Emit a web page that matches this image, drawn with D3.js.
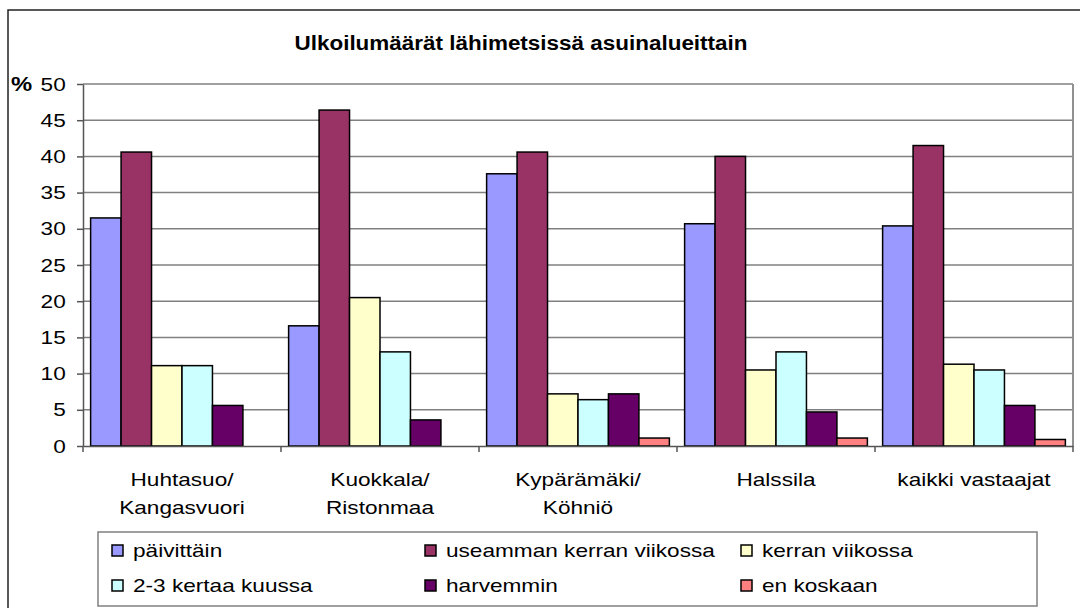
<!DOCTYPE html>
<html>
<head>
<meta charset="utf-8">
<script src="https://cdn.jsdelivr.net/npm/d3@7"></script>
<style>
  html, body { margin: 0; padding: 0; background: #fff; }
  svg { display: block; font-family: "Liberation Sans", Arial, sans-serif; }
</style>
</head>
<body>
<svg id="chart" width="1080" height="608"></svg>
<script>
const categories = [
  ["Huhtasuo/", "Kangasvuori"],
  ["Kuokkala/", "Ristonmaa"],
  ["Kypärämäki/", "Köhniö"],
  ["Halssila"],
  ["kaikki vastaajat"]
];
const seriesNames = ["päivittäin", "useamman kerran viikossa", "kerran viikossa", "2-3 kertaa kuussa", "harvemmin", "en koskaan"];
const seriesColors = ["#9999FF", "#993366", "#FFFFCC", "#CCFFFF", "#660066", "#FF8080"];
const paivittain   = [31.5, 16.6, 37.6, 30.7, 30.4];
const useamman     = [40.6, 46.4, 40.6, 40.0, 41.5];
const kerran       = [11.1, 20.5, 7.2, 10.5, 11.3];
const kertaaKuussa = [11.1, 13.0, 6.4, 13.0, 10.5];
const harvemmin    = [5.6, 3.6, 7.2, 4.7, 5.6];
const enKoskaan    = [0, 0, 1.1, 1.1, 0.9];
const seriesValues = [paivittain, useamman, kerran, kertaaKuussa, harvemmin, enKoskaan];
const yTicks = [0, 5, 10, 15, 20, 25, 30, 35, 40, 45, 50];
const titleText = "Ulkoilumäärät lähimetsissä asuinalueittain";

const svg = d3.select("#chart");
const L = 83, R = 1073, T = 84, B = 446;
const SX = 1.19; // horizontal stretch of the original text

// outer chart border
svg.append("rect").attr("x", 8).attr("y", 10).attr("width", 1200).attr("height", 800)
  .attr("fill", "#fff").attr("stroke", "#222").attr("stroke-width", 1.5);

const catIdx = categories.map((d, i) => i);
const x0 = d3.scaleBand().domain(catIdx).range([L, R]).padding(0);
const x1 = d3.scaleBand().domain(d3.range(seriesNames.length)).range([0, x0.bandwidth()]).paddingInner(0).paddingOuter(0.25);
const y = d3.scaleLinear().domain([0, 50]).range([B, T]);

// gridlines
svg.append("g").selectAll("line").data(yTicks.filter(t => t > 0)).join("line")
  .attr("x1", L).attr("x2", R).attr("y1", d => y(d)).attr("y2", d => y(d))
  .attr("stroke", "#808080").attr("stroke-width", 1.5);
// right border of plot area
svg.append("line").attr("x1", R).attr("x2", R).attr("y1", T).attr("y2", B)
  .attr("stroke", "#909090").attr("stroke-width", 2);

// bars
const groups = svg.append("g").selectAll("g").data(catIdx).join("g")
  .attr("transform", d => `translate(${x0(d)},0)`);
groups.selectAll("rect")
  .data(ci => seriesValues.map((vals, si) => ({ si, v: vals[ci] })).filter(d => d.v > 0))
  .join("rect")
  .attr("x", d => x1(d.si)).attr("width", x1.bandwidth())
  .attr("y", d => y(d.v)).attr("height", d => y(0) - y(d.v))
  .attr("fill", d => seriesColors[d.si]).attr("stroke", "#000").attr("stroke-width", 1.5);

// y axis
const yAxis = d3.axisLeft(y).tickValues(yTicks).tickSize(6).tickPadding(8.5).tickSizeOuter(0);
const gy = svg.append("g").attr("transform", `translate(${L},0)`).call(yAxis);
gy.select(".domain").attr("stroke", "#555").attr("stroke-width", 1.5);
gy.selectAll(".tick line").attr("stroke", "#555").attr("stroke-width", 1.5);
gy.selectAll(".tick text").attr("font-size", 19).attr("fill", "#000")
  .attr("font-family", "Liberation Sans, Arial, sans-serif")
  .attr("transform", `scale(${SX},1)`);

// x axis
const xAxis = d3.axisBottom(x0).tickSize(0).tickFormat(() => "");
const gx = svg.append("g").attr("transform", `translate(0,${B})`).call(xAxis);
gx.select(".domain").attr("stroke", "#555").attr("stroke-width", 1.5);
// tick marks at category boundaries
svg.append("g").selectAll("line").data(d3.range(categories.length + 1)).join("line")
  .attr("x1", i => L + i * x0.step()).attr("x2", i => L + i * x0.step())
  .attr("y1", B).attr("y2", B + 6).attr("stroke", "#555").attr("stroke-width", 1.5);
// category labels
const lab = svg.append("g").selectAll("g").data(catIdx).join("g")
  .attr("transform", d => `translate(${x0(d) + x0.bandwidth() / 2},486) scale(${SX},1)`)
  .append("text").attr("text-anchor", "middle").attr("font-size", 19).attr("fill", "#000");
lab.selectAll("tspan").data(d => categories[d]).join("tspan")
  .attr("x", 0).attr("dy", (d, i) => i === 0 ? 0 : 28).text(d => d);

// title
svg.append("text").attr("transform", "translate(521,50) scale(1.07,1)").attr("text-anchor", "middle")
  .attr("font-size", 21).attr("font-weight", "bold").attr("fill", "#000").text(titleText);
// % label
svg.append("text").attr("transform", `translate(11,91) scale(${SX},1)`).attr("font-size", 20).attr("font-weight", "bold")
  .attr("fill", "#000").text("%");

// legend
svg.append("rect").attr("x", 98).attr("y", 532).attr("width", 939).attr("height", 74)
  .attr("fill", "#fff").attr("stroke", "#808080").attr("stroke-width", 1.5);
const colX = [112, 425, 741];
const rowY = [550, 585];
const leg = svg.append("g").selectAll("g").data(seriesNames).join("g")
  .attr("transform", (d, i) => `translate(${colX[i % 3]},${rowY[Math.floor(i / 3)]})`);
leg.append("rect").attr("x", 0).attr("y", -5).attr("width", 11).attr("height", 11)
  .attr("fill", (d, i) => seriesColors[i]).attr("stroke", "#000").attr("stroke-width", 1.5);
leg.append("text").attr("transform", `translate(21,7) scale(${SX},1)`)
  .attr("font-size", 19).attr("fill", "#000").text(d => d);
</script>
</body>
</html>
